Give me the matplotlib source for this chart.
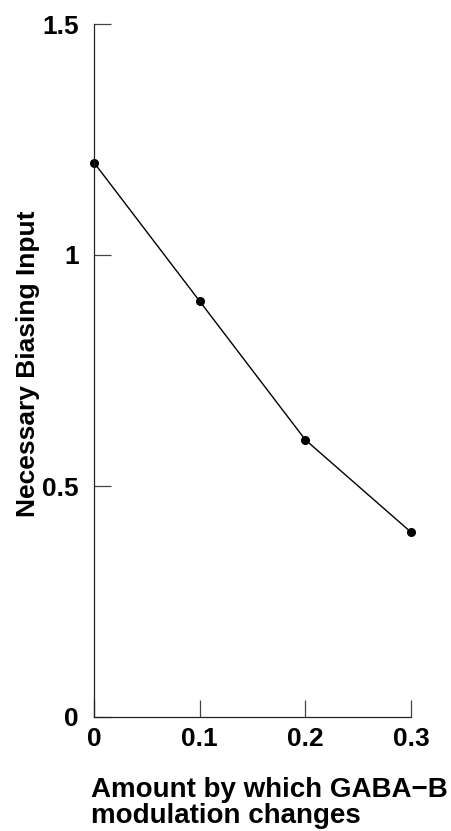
import matplotlib
matplotlib.use("Agg")
import matplotlib.pyplot as plt

x_vals = [0, 0.1, 0.2, 0.3]
y_vals = [1.2, 0.9, 0.6, 0.4]
x_ticks = [0, 0.1, 0.2, 0.3]
x_ticklabels = ["0", "0.1", "0.2", "0.3"]
y_ticks = [0, 0.5, 1, 1.5]
y_ticklabels = ["0", "0.5", "1", "1.5"]

plt.rcParams['font.family'] = ['Liberation Sans', 'DejaVu Sans']
plt.rcParams['font.weight'] = 'bold'

fig = plt.figure(figsize=(4.51, 8.31), dpi=100)
ax = fig.add_axes([94/451, 114/831, (411-94)/451, (717-24)/831])
ax.plot(x_vals, y_vals, color='black', linewidth=1, marker='o', markersize=5.5, clip_on=False)
ax.set_xlim(0, 0.3)
ax.set_ylim(0, 1.5)
ax.spines['top'].set_visible(False)
ax.spines['right'].set_visible(False)
for s in ['left', 'bottom']:
    ax.spines[s].set_linewidth(0.9)
    ax.spines[s].set_color('#222222')
ax.set_xticks(x_ticks)
ax.set_xticklabels(x_ticklabels, fontsize=19, fontweight='bold')
ax.set_yticks(y_ticks)
ax.set_yticklabels(y_ticklabels, fontsize=19, fontweight='bold')
ax.tick_params(direction='in', length=12, width=0.9, color='#444444')
ax.tick_params(axis='y', pad=11)
ax.tick_params(axis='x', pad=7)
fig.text(28/451, 1 - 364/831, "Necessary Biasing Input", fontsize=19, fontweight='bold',
         rotation=90, ha='center', va='center')
fig.text(91/451, 1 - 803/831, "Amount by which GABA\u2212B\nmodulation changes",
         fontsize=20, fontweight='bold', ha='left', va='center', linespacing=1.0)
fig.savefig("out.png", dpi=100)
